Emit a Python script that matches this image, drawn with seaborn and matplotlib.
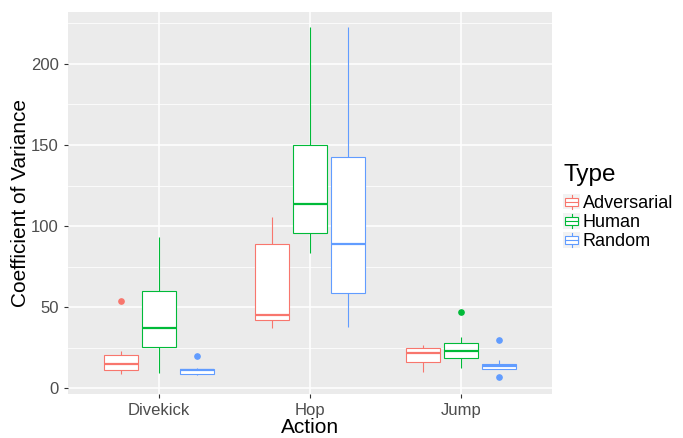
import numpy as np
import pandas as pd
import matplotlib
matplotlib.use('Agg')
import matplotlib.pyplot as plt
import seaborn as sns
from matplotlib.legend_handler import HandlerBase
from matplotlib.patches import Rectangle
from matplotlib.lines import Line2D
from matplotlib.ticker import MultipleLocator

actions = ['Divekick', 'Hop', 'Jump']
types = ['Adversarial', 'Human', 'Random']
colors = ['#F8766D', '#00BA38', '#619CFF']

divekick_adversarial = [8.7, 10, 11, 13, 15, 18, 20.5, 23, 54]
divekick_human = [9.7, 20, 25.3, 30, 37.3, 50, 60, 75, 93]
divekick_random = [8, 8.5, 8.9, 10, 11, 11.5, 12.2, 12.8, 19.7]
hop_adversarial = [37, 40, 42.4, 44, 45, 70, 89.2, 100, 105.4]
hop_human = [83.2, 90, 96, 105, 113.7, 130, 150.3, 190, 222.8]
hop_random = [37.9, 50, 58.8, 70, 88.8, 120, 142.4, 180, 222.8]
jump_adversarial = [10.1, 14, 16.1, 20, 22, 24, 25, 26, 26.5]
jump_human = [12.7, 16, 19, 21, 23, 25, 27.7, 31.8, 47]
jump_random = [7, 11.7, 12.2, 13, 13.9, 14.5, 15.3, 17.5, 30]

groups = {
    ('Divekick', 'Adversarial'): divekick_adversarial,
    ('Divekick', 'Human'): divekick_human,
    ('Divekick', 'Random'): divekick_random,
    ('Hop', 'Adversarial'): hop_adversarial,
    ('Hop', 'Human'): hop_human,
    ('Hop', 'Random'): hop_random,
    ('Jump', 'Adversarial'): jump_adversarial,
    ('Jump', 'Human'): jump_human,
    ('Jump', 'Random'): jump_random,
}
rows = [(a, t, v) for (a, t), vals in groups.items() for v in vals]
df = pd.DataFrame(rows, columns=['Action', 'Type', 'CV'])

plt.rcParams['font.family'] = ['Liberation Sans', 'DejaVu Sans']

fig = plt.figure(figsize=(6.83, 4.38), dpi=100)
W, H = 683, 438
ax = fig.add_axes([68 / W, 1 - 394 / H, (552 - 68) / W, (394 - 12) / H])

sns.boxplot(data=df, x='Action', y='CV', hue='Type', order=actions, hue_order=types,
            palette=colors, saturation=1, width=0.75, gap=0.1, showcaps=False, linewidth=0.8,
            medianprops={'linewidth': 1.6},
            flierprops={'marker': 'o', 'markersize': 3.8},
            legend=False, ax=ax)

# ggplot look: white boxes, every part in the group colour
for p in ax.patches:
    c = p.get_facecolor()
    xs = p.get_path().vertices[:, 0]
    x0, x1 = xs.min() - 1e-6, xs.max() + 1e-6
    p.set_facecolor('white')
    p.set_edgecolor(c)
    p.set_linewidth(0.8)
    for ln in ax.lines:
        xd = np.asarray(ln.get_xdata(), dtype=float)
        if len(xd) and xd.min() >= x0 and xd.max() <= x1:
            ln.set_color(c)
            ln.set_markerfacecolor(c)
            ln.set_markeredgecolor(c)

ax.set_facecolor('#EBEBEB')
for s in ax.spines.values():
    s.set_visible(False)
ax.set_axisbelow(True)
ax.yaxis.set_major_locator(MultipleLocator(50))
ax.yaxis.set_minor_locator(MultipleLocator(25))
ax.grid(True, which='major', color='white', linewidth=1.1)
ax.grid(True, which='minor', axis='y', color='white', linewidth=0.55)
ax.set_ylim(-3.5, 232)
ax.set_xlim(-0.6, 2.6)
ax.tick_params(which='major', colors='#333333', labelcolor='#4D4D4D', length=3, labelsize=12)
ax.tick_params(which='minor', length=0)
ax.set_xlabel('Action', fontsize=15, labelpad=0)
ax.set_ylabel('Coefficient of Variance', fontsize=15, labelpad=1)


class BoxKey(HandlerBase):
    def create_artists(self, legend, orig_handle, xd, yd, w, h, fontsize, trans):
        c = orig_handle.get_color()
        x0, y0 = -xd, -yd
        bg = Rectangle((x0, y0), w, h, facecolor='#F2F2F2', edgecolor='none', transform=trans)
        wl = Line2D([x0 + w / 2] * 2, [y0 + 0.05 * h, y0 + 0.95 * h], color=c, lw=0.8, transform=trans)
        box = Rectangle((x0 + 0.12 * w, y0 + 0.25 * h), 0.76 * w, 0.5 * h,
                        facecolor='white', edgecolor=c, lw=0.8, transform=trans)
        med = Line2D([x0 + 0.12 * w, x0 + 0.88 * w], [y0 + h / 2] * 2, color=c, lw=0.8, transform=trans)
        return [bg, wl, box, med]


handles = [Line2D([], [], color=c) for c in colors]
leg = ax.legend(handles, types, handler_map={Line2D: BoxKey()}, title='Type',
                loc='center left', bbox_to_anchor=(1.023, 0.49), frameon=False,
                borderpad=0, borderaxespad=0,
                handlelength=0.95, handleheight=0.95, labelspacing=0.06, handletextpad=0.15,
                fontsize=13, title_fontsize=17.5, alignment='left')
leg._legend_box.sep = 6

fig.savefig('out.png', dpi=100)
